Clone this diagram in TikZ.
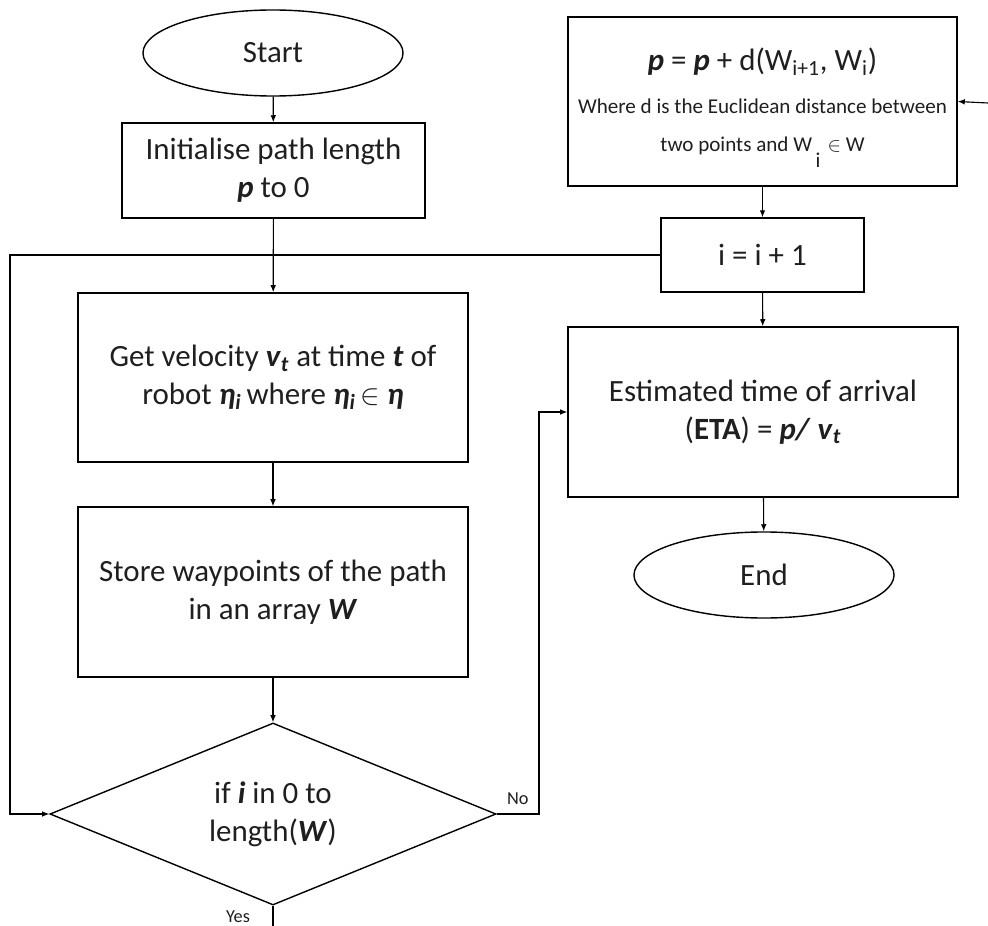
\documentclass[tikz,border=0pt]{standalone}
\usepackage{fontspec}
\setmainfont{Carlito}
\usetikzlibrary{shapes.geometric, arrows.meta}
\newcommand{\bi}[1]{\textbf{\textit{#1}}}
\newcommand{\mainsize}{\fontsize{22}{27}\selectfont}

\begin{document}
\begin{tikzpicture}[x=0.025cm, y=-0.025cm, >={Latex[length=5pt,width=4pt]},
    box/.style={draw, line width=1pt, align=center, inner sep=2pt, font=\mainsize, text=black!88},
    term/.style={ellipse, draw, line width=1pt, minimum width=6.5cm, minimum height=2.15cm, inner sep=0pt, font=\mainsize, text=black!88},
    decision/.style={diamond, draw, line width=1pt, aspect=2.45, minimum width=11.15cm, minimum height=4.55cm, inner sep=0pt, align=center, font=\mainsize, text=black!88},
    lbl/.style={font=\fontsize{13}{15}\selectfont, text=black!88, inner sep=1pt},
    line width=0.8pt]
        \useasboundingbox (0,0) rectangle (988,926);

        % Left column
        \node[term] (start) at (273,53) {Start};
        \node[box, minimum width=7.575cm, minimum height=2.375cm] (init) at (273.5,170.5) {Initialise path length\\ \bi{p} to 0};
        \node[box, minimum width=9.75cm, minimum height=4.225cm] (vel) at (273,377.5) {Get velocity \bi{v}\textsubscript{\bi{t}} at time \bi{t} of\\ robot \bi{η}\textsubscript{\bi{i}}\,where \bi{η}\textsubscript{\bi{i}}\,$\in$ \bi{η}};
        \node[box, minimum width=9.75cm, minimum height=4.25cm] (store) at (273,592) {Store waypoints of the path\\ in an array \bi{W}};
        \node[decision] (cond) at (273,814) {if \bi{i} in 0 to\\ length(\bi{W})};

        % Right column
        \node[box, minimum width=9.725cm, minimum height=4.225cm, font=\fontsize{15}{27}\selectfont] (upd) at (762.5,101.5) {{\mainsize \bi{p} = \bi{p} + d(W\textsubscript{i+1}, W\textsubscript{i})}\\[4pt] Where d is the Euclidean distance between\\ two points and W\,\smash{\raisebox{-11pt}{i}}\,\,$\in$ W};
        \node[box, minimum width=5.075cm, minimum height=1.85cm] (incr) at (762.5,255) {i = i + 1};
        \node[box, minimum width=9.75cm, minimum height=4.25cm] (eta) at (763,412) {Estimated time of arrival\\ (\textbf{ETA}) = \bi{p/} \bi{v}\textsubscript{\bi{t}}};
        \node[term] (end) at (764,575) {End};

        % Free ends and bends
        \coordinate (loop) at (10,814);
        \coordinate (nobend) at (539,814);
        \coordinate (yesout) at (273,926);
        \coordinate (back) at (988,103);

        % Connectors
        \draw[->] (start) -- (init);
        \draw[->] (init) -- (vel);
        \draw[->] (vel) -- (store);
        \draw[->] (store) -- (cond);
        \draw (cond.south) -- node[lbl, pos=0.55, left=15pt]{Yes} (yesout);
        \draw[->] (cond.east) -- node[lbl, above=5pt]{No} (nobend) |- (eta.west);
        \draw[->] (incr.west) -| (loop) -- (cond.west);
        \draw[->] (back) -- (upd.east);
        \draw[->] (upd) -- (incr);
        \draw[->] (incr) -- (eta);
        \draw[->] (eta) -- (end);
    \end{tikzpicture}
\end{document}
